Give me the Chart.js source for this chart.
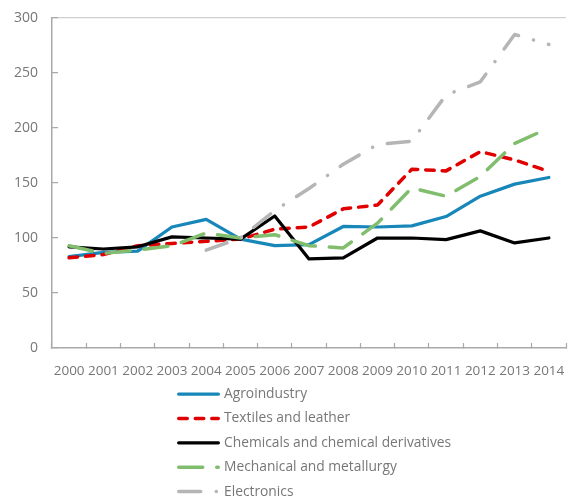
<!DOCTYPE html>
<html>
<head>
<meta charset="utf-8">
<script src="https://cdn.jsdelivr.net/npm/chart.js@4"></script>
<style>
  html, body { margin: 0; padding: 0; background: #ffffff; }
  #wrap { width: 568px; height: 498px; position: relative; }
</style>
</head>
<body>
<div id="wrap"><canvas id="chart"></canvas></div>
<script>
// Index values by sector, 2000–2014
const years = ['2000','2001','2002','2003','2004','2005','2006','2007','2008','2009','2010','2011','2012','2013','2014'];
const agroindustry = [83, 87, 88, 110, 117, 99, 93, 94, 110.5, 110, 111, 119.5, 138, 149, 155];
const textiles     = [82, 85, 93, 95, 97, 99, 108, 110, 126.5, 130, 162.5, 161, 178.5, 171, 160.5];
const chemicals    = [92, 90, 92, 101, 100, 99, 120, 81, 82, 100, 100, 98.5, 106.5, 95.5, 100];
const mechanical   = [93, 86, 89, 93, 104.5, 100, 103, 93, 91, 113.5, 145.5, 138, 156, 186, 200];
const electronics  = [null, null, null, null, 89, 100, 125, 145, 167, 185, 188, 230, 242, 285, 276];
const yTicks = [0, 50, 100, 150, 200, 250, 300];

const seriesNames = ['Agroindustry', 'Textiles and leather', 'Chemicals and chemical derivatives', 'Mechanical and metallurgy', 'Electronics'];

const textColor = '#777777';
const axisColor = '#a9a9a9';

function line(label, data, color, dash, width, order) {
  return {
    label, data,
    borderColor: color,
    backgroundColor: color,
    borderWidth: width,
    borderDash: dash,
    borderCapStyle: 'round',
    borderJoinStyle: 'round',
    pointRadius: 0,
    pointHoverRadius: 0,
    tension: 0,
    fill: false,
    order
  };
}

// Vertical legend drawn beneath the x axis
const stackedLegend = {
  id: 'stackedLegend',
  afterDraw(chart) {
    const ctx = chart.ctx;
    const sampleX = 177, sampleLen = 43, textX = 224, firstY = 394, step = 24.4;
    chart.data.datasets.forEach((ds, i) => {
      const y = firstY + i * step;
      const half = ds.borderWidth / 2;
      ctx.save();
      ctx.strokeStyle = ds.borderColor;
      ctx.lineWidth = ds.borderWidth;
      ctx.lineCap = 'round';
      ctx.setLineDash(ds.borderDash || []);
      ctx.beginPath();
      ctx.moveTo(sampleX + half, y);
      ctx.lineTo(sampleX + sampleLen - half, y);
      ctx.stroke();
      ctx.restore();
      ctx.save();
      ctx.fillStyle = textColor;
      ctx.font = '13.8px "Open Sans"';
      ctx.textBaseline = 'middle';
      ctx.textAlign = 'left';
      ctx.fillText(ds.label, textX, y);
      ctx.restore();
    });
  }
};

new Chart(document.getElementById('chart'), {
  type: 'line',
  data: {
    labels: years,
    datasets: [
      line(seriesNames[0], agroindustry, '#1786b9', [], 3.25, 5),
      line(seriesNames[1], textiles, '#e00000', [8.5, 8], 3.5, 4),
      line(seriesNames[2], chemicals, '#000000', [], 3.25, 3),
      line(seriesNames[3], mechanical, '#80bd6c', [24, 14], 3.5, 2),
      line(seriesNames[4], electronics, '#b5b5b5', [22, 15.5, 0.1, 15.5], 3.5, 1)
    ]
  },
  options: {
    responsive: true,
    maintainAspectRatio: false,
    animation: false,
    layout: { padding: { top: 18, right: 2, bottom: 116, left: 0 } },
    plugins: {
      legend: { display: false },
      tooltip: { enabled: false }
    },
    scales: {
      x: {
        offset: true,
        grid: {
          offset: true,
          drawOnChartArea: false,
          drawTicks: true,
          tickLength: -5,
          tickColor: axisColor,
          tickWidth: 1.25
        },
        border: { display: true, color: axisColor, width: 1.5 },
        ticks: {
          color: textColor,
          font: { family: 'Open Sans', size: 13.5 },
          padding: 20,
          autoSkip: false,
          maxRotation: 0,
          minRotation: 0
        },
        afterFit(scale) {
          scale.height = 34;
          scale.paddingLeft = 0;
          scale.paddingRight = 0;
        }
      },
      y: {
        min: 0,
        max: 300,
        afterBuildTicks(scale) {
          scale.ticks = yTicks.map(v => ({ value: v }));
        },
        grid: {
          drawOnChartArea: true,
          color: c => (c.tick && c.tick.value === 300) ? '#cfcfcf' : 'rgba(0,0,0,0)',
          lineWidth: 1.25,
          drawTicks: true,
          tickLength: -6,
          tickColor: axisColor,
          tickWidth: 1.25
        },
        border: { display: true, color: axisColor, width: 1.5 },
        ticks: {
          color: textColor,
          font: { family: 'Open Sans', size: 14 },
          padding: 20
        },
        afterFit(scale) {
          scale.width = 52;
          scale.paddingTop = 0;
          scale.paddingBottom = 0;
        }
      }
    }
  },
  plugins: [stackedLegend]
});
</script>
</body>
</html>
